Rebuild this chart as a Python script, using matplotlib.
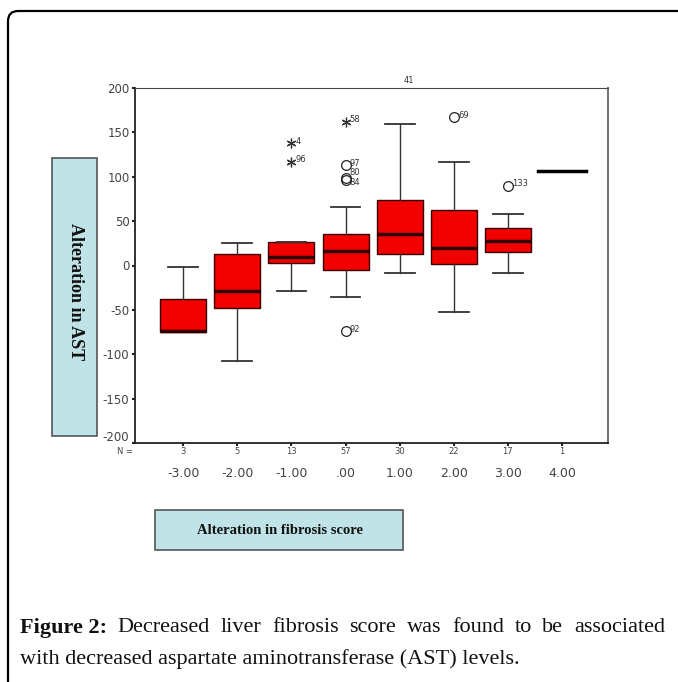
import matplotlib
matplotlib.use('Agg')
import matplotlib.pyplot as plt
from matplotlib.patches import FancyBboxPatch, Rectangle
from matplotlib.transforms import blended_transform_factory, ScaledTranslation

cats = ['-3.00', '-2.00', '-1.00', '.00', '1.00', '2.00', '3.00', '4.00']
ns = [3, 5, 13, 57, 30, 22, 17, 1]
wlo = [-75, -108, -29, -35, -9, -52, -8, 107]
q1 = [-75, -48, 3, -5, 13, 2, 15, 107]
med = [-74, -29, 10, 16, 35, 20, 28, 107]
q3 = [-38, 13, 27, 36, 74, 63, 42, 107]
whi = [-2, 25, 27, 66, 160, 117, 58, 107]
# outliers: (category index, value, label, kind)  o = outlier, * = extreme
outl = [(2, 138, '4', '*'), (2, 117, '96', '*'),
        (3, 162, '58', '*'), (3, 113, '97', 'o'), (3, 99, '80', 'o'), (3, 96, '84', 'o'), (3, -74, '92', 'o'),
        (5, 167, '69', 'o'), (6, 90, '133', 'o')]
lab_dy = {'80': 4, '84': -5}

W, H = 678, 682
fig = plt.figure(figsize=(W/100, H/100), dpi=100)
ax = fig.add_axes([135/W, 1-443/H, 473/W, 355/H])

pos = list(range(1, len(cats) + 1))
stats = []
for i in range(len(cats) - 1):
    stats.append({'med': med[i], 'q1': q1[i], 'q3': q3[i], 'whislo': wlo[i], 'whishi': whi[i], 'fliers': []})
ax.bxp(stats, positions=pos[:-1], widths=0.85, patch_artist=True, showfliers=False,
       boxprops=dict(facecolor='#f20000', edgecolor='#3a0000', linewidth=1),
       medianprops=dict(color='#300000', linewidth=2.5),
       whiskerprops=dict(color='#333333', linewidth=1),
       capprops=dict(color='#333333', linewidth=1.3),
       capwidths=0.55)
# single case: drawn as a line
ax.plot([pos[-1] - 0.45, pos[-1] + 0.45], [med[-1]] * 2, color='black', lw=2.5)

for ci, v, lab, kind in outl:
    x = pos[ci]
    if kind == 'o':
        ax.plot(x, v, 'o', mfc='none', mec='#222222', ms=7, mew=0.9)
    else:
        ax.plot(x, v, marker=(6, 2, 0), color='#333333', ms=7, mew=0.9, ls='none')
    ax.text(x + 0.08, v + 2 + lab_dy.get(lab, 0), lab, fontsize=6, color='#333333', va='center', ha='left')
ax.text(pos[4] + 0.17, 203, '41', fontsize=6, color='#333333', ha='center', va='bottom', clip_on=False)

ax.set_xlim(0.11, 8.85)
ax.set_ylim(-200, 200)
yt = list(range(-200, 201, 50))
ax.set_yticks(yt)
ax.set_yticklabels([str(t) for t in yt], fontsize=8.5, color='#444444')
ax.set_xticks(pos)
ax.set_xticklabels(cats, fontsize=9, color='#444444')
ax.tick_params(axis='x', length=2, width=1.5, pad=15, colors='#222222', labelcolor='#444444')
ax.tick_params(axis='y', length=2, width=1.5, pad=2, colors='#222222', labelcolor='#444444')
lb = ax.get_yticklabels()[0]
lb.set_transform(lb.get_transform() + ScaledTranslation(0, 5/72, fig.dpi_scale_trans))
for s in ['left', 'bottom']:
    ax.spines[s].set_color('#222222')
    ax.spines[s].set_linewidth(1.3)
ax.spines['top'].set_color('#444444')
ax.spines['right'].set_color('#777777')
ax.spines['right'].set_linewidth(1.5)

tr = blended_transform_factory(ax.transData, fig.transFigure)
for x, n in zip(pos, ns):
    ax.text(x, 1 - 452/H, str(n), transform=tr, fontsize=6, color='#444444', ha='center', va='center')
fig.text(133/W, 1 - 452/H, 'N =', fontsize=6, color='#444444', ha='right', va='center')

# label boxes
fig.patches.append(Rectangle((52/W, 1 - 436/H), 45/W, 278/H, transform=fig.transFigure,
                             facecolor='#bfe3e6', edgecolor='#555555', lw=1.2))
fig.text(75/W, 1 - 292/H, 'Alteration in AST', rotation=-90, ha='center', va='center',
         family='Liberation Serif', fontweight='bold', fontsize=13, color='#111111')
fig.patches.append(Rectangle((155/W, 1 - 550/H), 248/W, 40/H, transform=fig.transFigure,
                             facecolor='#bfe3e6', edgecolor='#555555', lw=1.2))
fig.text(280/W, 1 - 530/H, 'Alteration in fibrosis score', ha='center', va='center',
         family='Liberation Serif', fontweight='bold', fontsize=10.5, color='#111111')

# outer frame with rounded corner
fig.patches.append(FancyBboxPatch((8/W, -0.2), 1.2, 1.2 - 11/H, transform=fig.transFigure,
                                  boxstyle='round,pad=0,rounding_size=0.015', facecolor='none',
                                  edgecolor='black', lw=1.6))

# caption, first line justified
line1 = [('Figure 2:', 'bold')] + [(w, 'normal') for w in
         'Decreased liver fibrosis score was found to be associated'.split()]
line2 = 'with decreased aspartate aminotransferase (AST) levels.'
cs = 16
fig.canvas.draw()
r = fig.canvas.get_renderer()
y1, y2 = 1 - 628/H, 1 - 659/H
txts = [fig.text(0, y1, w, family='Liberation Serif', fontweight=fw, fontsize=cs, color='#111111',
                 va='center', ha='left') for w, fw in line1]
ws = [t.get_window_extent(r).width for t in txts]
x0, x1 = 20, 665
gap = (x1 - x0 - sum(ws)) / (len(ws) - 1)
x = x0
for t, w in zip(txts, ws):
    t.set_x(x / W)
    x += w + gap
fig.text(x0/W, y2, line2, family='Liberation Serif', fontsize=cs, color='#111111', va='center', ha='left')

fig.savefig('out.png', dpi=100)
